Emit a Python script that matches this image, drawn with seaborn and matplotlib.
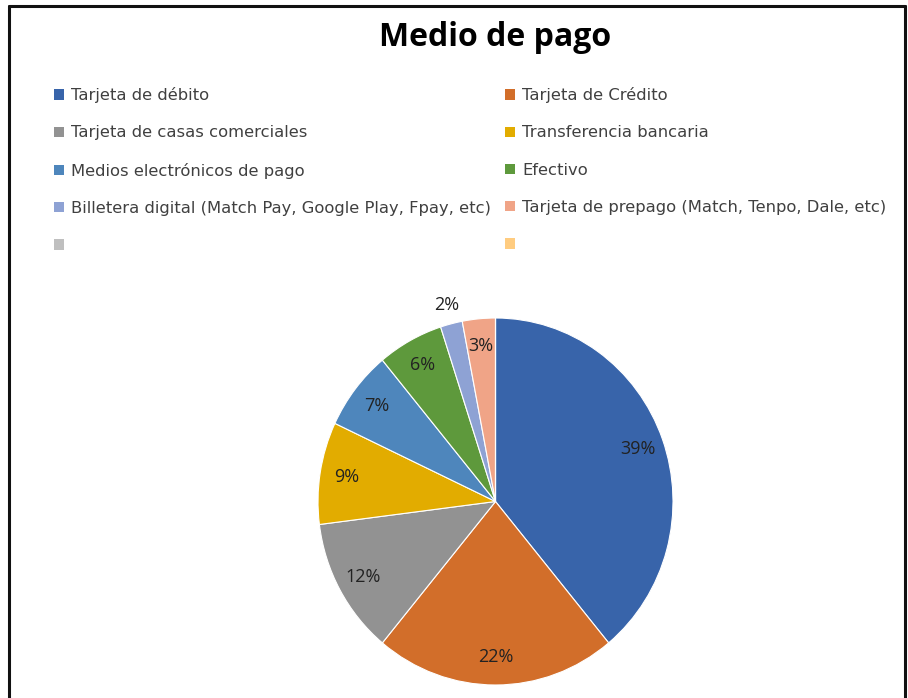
import matplotlib.pyplot as plt
import seaborn as sns
from matplotlib.patches import Patch
from matplotlib.lines import Line2D

categories = [
    "Tarjeta de débito",
    "Tarjeta de Crédito",
    "Tarjeta de casas comerciales",
    "Transferencia bancaria",
    "Medios electrónicos de pago",
    "Efectivo",
    "Billetera digital (Match Pay, Google Play, Fpay, etc)",
    "Tarjeta de prepago (Match, Tenpo, Dale, etc)",
    "",
    "",
]
values = [39, 22, 12, 9, 7, 6, 2, 3, 0, 0]
colors = ["#3864AA", "#D26E2A", "#929292", "#E2AC00", "#4E86BC",
          "#5E993C", "#8EA2D4", "#F0A487", "#BFBFBF", "#FFCC80"]

sns.set_theme(style="white")
plt.rcParams['font.family'] = ['Open Sans', 'DejaVu Sans']

W, H = 908, 698
fig = plt.figure(figsize=(W / 100, H / 100), dpi=100)

# pie axes placed in pixel terms
cx, cy, rx, ry = 495.5, 501.5, 177.5, 183.5
ax = fig.add_axes([(cx - rx) / W, 1 - (cy + ry) / H, 2 * rx / W, 2 * ry / H])

def pct(p):
    return f"{p:.0f}%" if p > 0.5 else ""

wedges, texts, autotexts = ax.pie(
    values, colors=colors, startangle=90, counterclock=False,
    autopct=pct, pctdistance=0.85,
    wedgeprops=dict(edgecolor="white", linewidth=0.8),
    textprops=dict(fontsize=13, color="#222222"),
)
# small slice label sits outside
x, y = autotexts[6].get_position()
autotexts[6].set_position((x * 1.3, y * 1.3))
ax.set_aspect("auto")
ax.set_xlim(-1, 1)
ax.set_ylim(-1, 1)
ax.axis("off")

fig.text(495 / W, 1 - 38 / H, "Medio de pago", ha="center", va="center",
         fontsize=23, fontweight="bold", color="black")

# legend, row-major in two columns
handles = [Patch(facecolor=c, edgecolor="none") for c in colors]
for col, x0 in enumerate([46, 497]):
    idx = list(range(col, len(categories), 2))
    fig.legend([handles[i] for i in idx], [categories[i] for i in idx],
               loc="upper left", bbox_to_anchor=(x0 / W, 1 - 79 / H),
               frameon=False, labelcolor="#404040",
               prop=dict(family=['DejaVu Sans'], size=11.8),
               handlelength=0.6, handleheight=0.6, handletextpad=0.45,
               labelspacing=1.36, borderpad=0)

# outer frame (left, top, right)
kw = dict(color="#111111", linewidth=2.2, transform=fig.transFigure)
fig.add_artist(Line2D([9 / W, 9 / W], [0, 1 - 6 / H], **kw))
fig.add_artist(Line2D([9 / W, 905 / W], [1 - 6 / H, 1 - 6 / H], **kw))
fig.add_artist(Line2D([905 / W, 905 / W], [0, 1 - 6 / H], **kw))

fig.savefig("out.png", dpi=100)
